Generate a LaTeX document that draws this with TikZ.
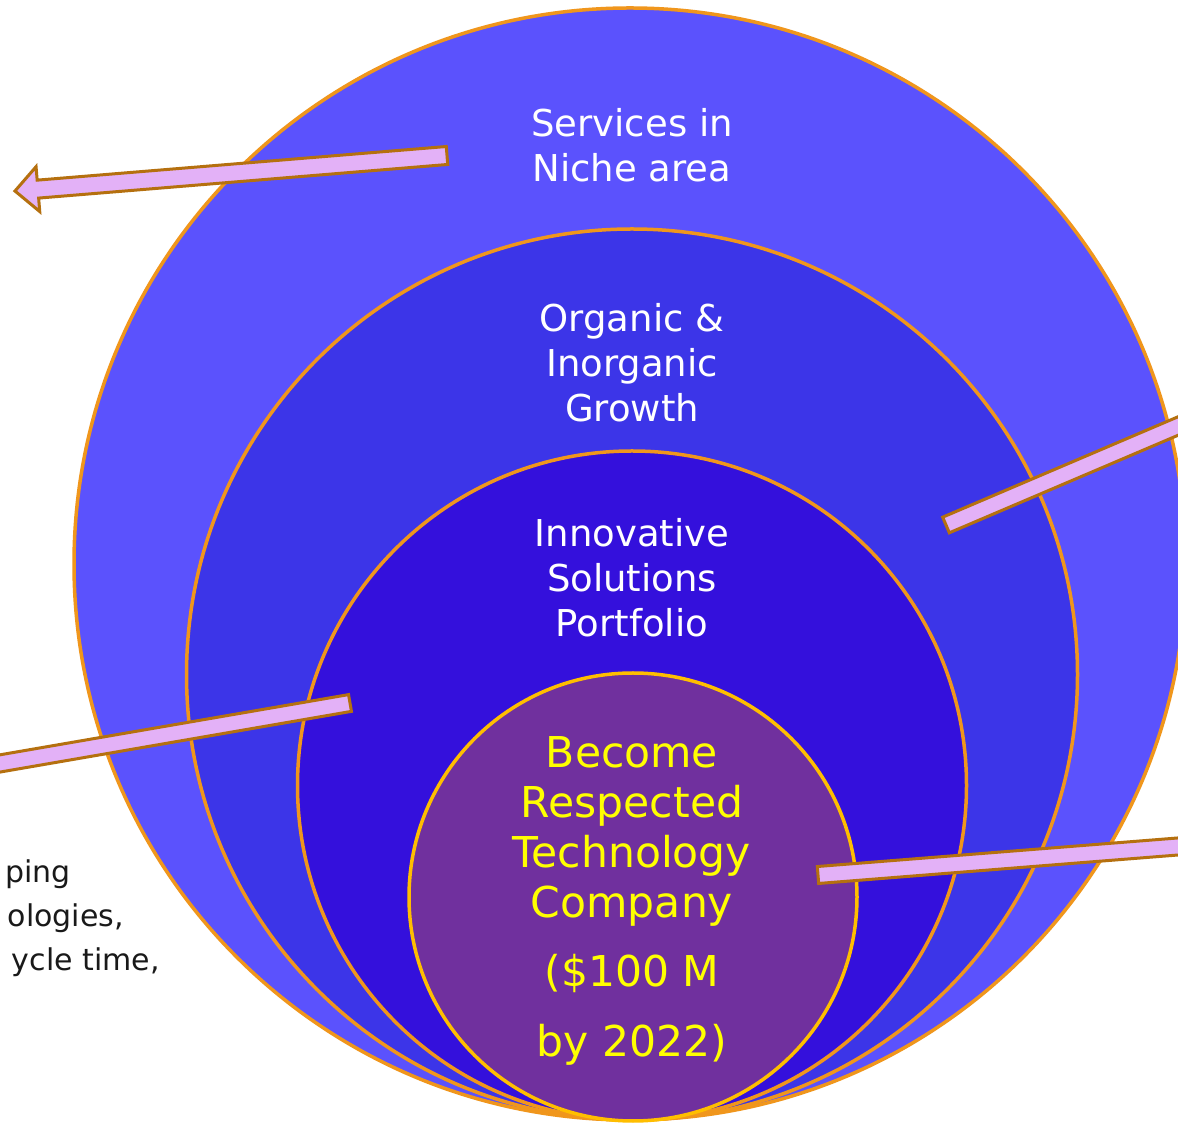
\documentclass[tikz,border=0pt]{standalone}
\usepackage{fontspec}
\setmainfont{DejaVu Sans}
\definecolor{c1fill}{HTML}{5B52FD}
\definecolor{c2fill}{HTML}{3C35E8}
\definecolor{c3fill}{HTML}{3410DC}
\definecolor{c4fill}{HTML}{70309E}
\definecolor{ringorange}{HTML}{F0961C}
\definecolor{ringyellow}{HTML}{FFBE00}
\definecolor{barfill}{HTML}{E3B1F7}
\definecolor{barline}{HTML}{B5700F}
\definecolor{labelyellow}{HTML}{FFFF00}
\begin{document}
\begin{tikzpicture}[x=1pt,y=1pt,
  ring/.style={circle,inner sep=0pt,outer sep=0pt,draw=ringorange,line width=3.5pt},
  bar/.style={fill=barfill,draw=barline,line width=3pt,line join=miter},
  wlabel/.style={text=white,align=center,inner sep=0pt,font=\fontsize{37}{45}\selectfont},
  ylabel/.style={text=labelyellow,align=center,inner sep=0pt,font=\fontsize{42.5}{50}\selectfont},
  blabel/.style={text=black!90,inner sep=0pt,anchor=base east,font=\fontsize{30}{44}\selectfont}]
\useasboundingbox (0,0) rectangle (1178,1122);
\clip (0,0) rectangle (1178,1122);
\fill[white] (0,0) rectangle (1178,1122);

% rings
\node[ring,fill=c1fill,minimum size=1112pt] (c1) at (630,558) {};
\node[ring,fill=c2fill,minimum size=891pt] (c2) at (632,447.5) {};
\node[ring,fill=c3fill,minimum size=669pt] (c3) at (632,336.5) {};
\node[ring,fill=c4fill,draw=ringyellow,minimum size=448pt] (c4) at (633,225) {};

% bars and arrow
\coordinate (a1) at (447,966.5);
\begin{scope}[shift={(a1)},rotate=184.7]
\draw[bar] (0,-9) -- (410.5,-9) -- (410.5,-22.5) -- (433.5,0) -- (410.5,22.5) -- (410.5,9) -- (0,9) -- cycle;
\end{scope}
\coordinate (a2) at (946,597);
\begin{scope}[shift={(a2)},rotate=23.1]
\draw[bar] (0,-8.5) rectangle (340,8.5);
\end{scope}
\coordinate (a3) at (350,419);
\begin{scope}[shift={(a3)},rotate=189.8]
\draw[bar] (0,-8.5) rectangle (420,8.5);
\end{scope}
\coordinate (a4) at (818,247);
\begin{scope}[shift={(a4)},rotate=4.53]
\draw[bar] (0,-8.5) rectangle (420,8.5);
\end{scope}

% labels
\node[wlabel] (l1) at (632,976.5) {Services in\\Niche area};
\node[wlabel] (l2) at (632,759) {Organic \&\\Inorganic\\Growth};
\node[wlabel] (l3) at (632,544) {Innovative\\Solutions\\Portfolio};
\node[ylabel] (l4) at (632,221) {Become\\Respected\\Technology\\Company\\[19pt](\$100 M\\[20pt]by 2022)};

\node[blabel] (t1) at (71,239) {ping};
\node[blabel] (t2) at (124,195) {ologies,};
\node[blabel] (t3) at (160,151) {ycle time,};
\end{tikzpicture}
\end{document}
